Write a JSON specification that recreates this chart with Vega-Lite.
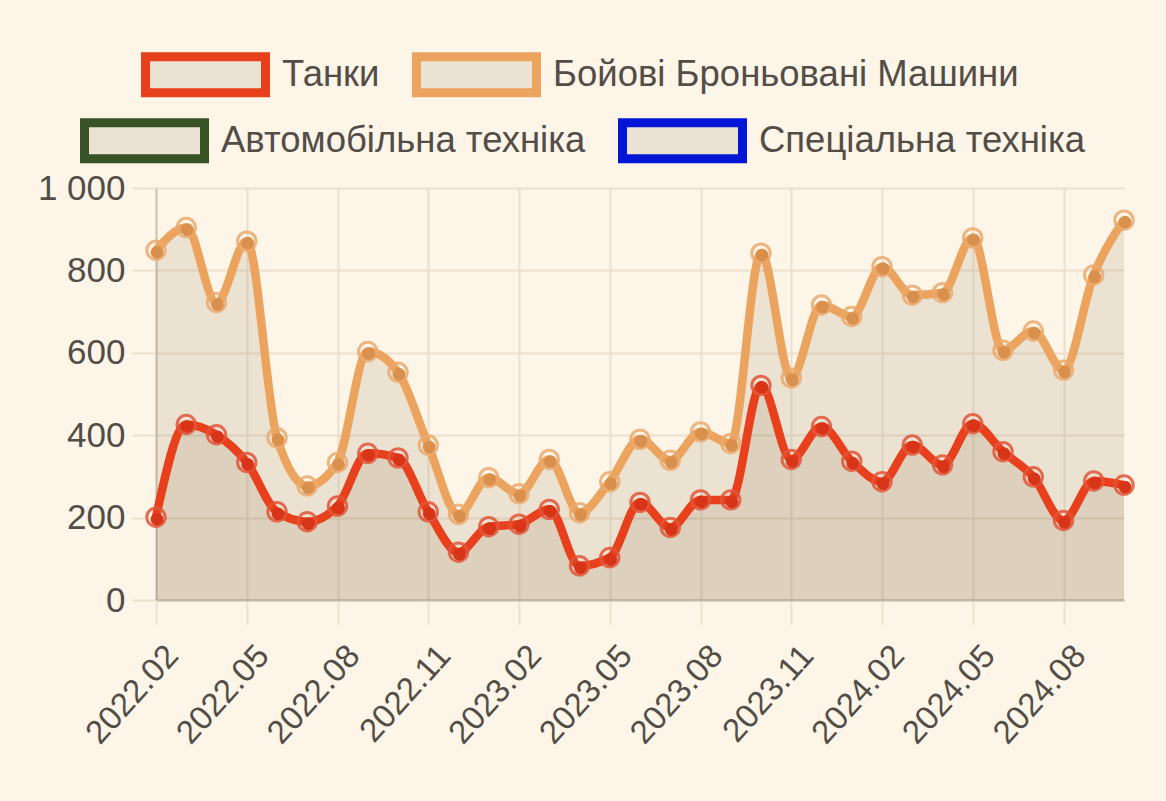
{
  "$schema": "https://vega.github.io/schema/vega-lite/v6.json",
  "width": 968,
  "height": 412,
  "autosize": {"type": "none"},
  "padding": {"left": 156, "top": 188, "right": 42, "bottom": 201},
  "background": "#fdf5e8",
  "config": {
    "view": {"stroke": null},
    "font": "Liberation Sans",
    "legend": {
      "orient": "none",
      "direction": "horizontal",
      "title": null,
      "symbolType": "M-1,-0.3H1V0.3H-1Z",
      "symbolSize": 14400,
      "symbolStrokeWidth": 9,
      "symbolFillColor": "#ece2d3",
      "symbolOpacity": 1,
      "labelFontSize": 36.5,
      "labelColor": "#534d47",
      "labelFont": "Liberation Sans",
      "labelOffset": 12,
      "columnPadding": 18,
      "labelLimit": 700
    }
  },
  "datasets": {
    "losses": [
      {"month": "2022.02", "series": "Танки", "value": 201},
      {"month": "2022.03", "series": "Танки", "value": 426},
      {"month": "2022.04", "series": "Танки", "value": 401},
      {"month": "2022.05", "series": "Танки", "value": 334},
      {"month": "2022.06", "series": "Танки", "value": 214},
      {"month": "2022.07", "series": "Танки", "value": 190},
      {"month": "2022.08", "series": "Танки", "value": 228},
      {"month": "2022.09", "series": "Танки", "value": 356},
      {"month": "2022.10", "series": "Танки", "value": 345},
      {"month": "2022.11", "series": "Танки", "value": 214},
      {"month": "2022.12", "series": "Танки", "value": 116},
      {"month": "2023.01", "series": "Танки", "value": 178},
      {"month": "2023.02", "series": "Танки", "value": 184},
      {"month": "2023.03", "series": "Танки", "value": 220},
      {"month": "2023.04", "series": "Танки", "value": 83},
      {"month": "2023.05", "series": "Танки", "value": 103},
      {"month": "2023.06", "series": "Танки", "value": 237},
      {"month": "2023.07", "series": "Танки", "value": 176},
      {"month": "2023.08", "series": "Танки", "value": 243},
      {"month": "2023.09", "series": "Танки", "value": 243},
      {"month": "2023.10", "series": "Танки", "value": 521},
      {"month": "2023.11", "series": "Танки", "value": 341},
      {"month": "2023.12", "series": "Танки", "value": 421},
      {"month": "2024.01", "series": "Танки", "value": 337},
      {"month": "2024.02", "series": "Танки", "value": 287},
      {"month": "2024.03", "series": "Танки", "value": 376},
      {"month": "2024.04", "series": "Танки", "value": 328},
      {"month": "2024.05", "series": "Танки", "value": 428},
      {"month": "2024.06", "series": "Танки", "value": 360},
      {"month": "2024.07", "series": "Танки", "value": 299},
      {"month": "2024.08", "series": "Танки", "value": 193},
      {"month": "2024.09", "series": "Танки", "value": 289},
      {"month": "2024.10", "series": "Танки", "value": 279},
      {"month": "2022.02", "series": "Бойові Броньовані Машини", "value": 849},
      {"month": "2022.03", "series": "Бойові Броньовані Машини", "value": 904},
      {"month": "2022.04", "series": "Бойові Броньовані Машини", "value": 722},
      {"month": "2022.05", "series": "Бойові Броньовані Машини", "value": 871},
      {"month": "2022.06", "series": "Бойові Броньовані Машини", "value": 394},
      {"month": "2022.07", "series": "Бойові Броньовані Машини", "value": 277},
      {"month": "2022.08", "series": "Бойові Броньовані Машини", "value": 334},
      {"month": "2022.09", "series": "Бойові Броньовані Машини", "value": 603},
      {"month": "2022.10", "series": "Бойові Броньовані Машини", "value": 553},
      {"month": "2022.11", "series": "Бойові Броньовані Машини", "value": 376},
      {"month": "2022.12", "series": "Бойові Броньовані Машини", "value": 208},
      {"month": "2023.01", "series": "Бойові Броньовані Машини", "value": 297},
      {"month": "2023.02", "series": "Бойові Броньовані Машини", "value": 258},
      {"month": "2023.03", "series": "Бойові Броньовані Машини", "value": 341},
      {"month": "2023.04", "series": "Бойові Броньовані Машини", "value": 212},
      {"month": "2023.05", "series": "Бойові Броньовані Машини", "value": 287},
      {"month": "2023.06", "series": "Бойові Броньовані Машини", "value": 390},
      {"month": "2023.07", "series": "Бойові Броньовані Машини", "value": 339},
      {"month": "2023.08", "series": "Бойові Броньовані Машини", "value": 408},
      {"month": "2023.09", "series": "Бойові Броньовані Машини", "value": 380},
      {"month": "2023.10", "series": "Бойові Броньовані Машини", "value": 842},
      {"month": "2023.11", "series": "Бойові Броньовані Машини", "value": 539},
      {"month": "2023.12", "series": "Бойові Броньовані Машини", "value": 716},
      {"month": "2024.01", "series": "Бойові Броньовані Машини", "value": 688},
      {"month": "2024.02", "series": "Бойові Броньовані Машини", "value": 809},
      {"month": "2024.03", "series": "Бойові Броньовані Машини", "value": 740},
      {"month": "2024.04", "series": "Бойові Броньовані Машини", "value": 746},
      {"month": "2024.05", "series": "Бойові Броньовані Машини", "value": 879},
      {"month": "2024.06", "series": "Бойові Броньовані Машини", "value": 606},
      {"month": "2024.07", "series": "Бойові Броньовані Машини", "value": 653},
      {"month": "2024.08", "series": "Бойові Броньовані Машини", "value": 558},
      {"month": "2024.09", "series": "Бойові Броньовані Машини", "value": 789},
      {"month": "2024.10", "series": "Бойові Броньовані Машини", "value": 922}
    ]
  },
  "data": {"name": "losses"},
  "encoding": {
    "x": {
      "field": "month",
      "type": "ordinal",
      "sort": null,
      "scale": {"type": "point", "padding": 0},
      "axis": {
        "values": ["2022.02", "2022.05", "2022.08", "2022.11", "2023.02", "2023.05", "2023.08", "2023.11", "2024.02", "2024.05", "2024.08"],
        "title": null,
        "labelAngle": -48,
        "labelAlign": "right",
        "labelBaseline": "middle",
        "labelFontSize": 33,
        "labelColor": "#534d47",
        "labelPadding": 26,
        "labelOffset": 16,
        "tickSize": 24,
        "tickColor": "#ece0cd",
        "tickWidth": 2,
        "grid": true,
        "gridColor": "#ece0cd",
        "gridWidth": 2,
        "domainColor": "#c4b9aa",
        "domainWidth": 2
      }
    },
    "y": {
      "field": "value",
      "type": "quantitative",
      "stack": null,
      "scale": {"domain": [0, 1000], "nice": false},
      "axis": {
        "values": [0, 200, 400, 600, 800, 1000],
        "title": null,
        "labelExpr": "replace(datum.label, ',', ' ')",
        "labelFontSize": 35,
        "labelColor": "#534d47",
        "labelPadding": 7,
        "tickSize": 24,
        "tickColor": "#ece0cd",
        "tickWidth": 2,
        "gridColor": "#ece0cd",
        "gridWidth": 2,
        "domainColor": "#cfc5b7",
        "domainWidth": 2
      }
    }
  },
  "layer": [
    {
      "mark": {"type": "area", "interpolate": "monotone", "color": "#5a3a14", "fillOpacity": 0.1},
      "encoding": {"detail": {"field": "series"}}
    },
    {
      "mark": {"type": "line", "interpolate": "monotone", "strokeWidth": 8.5},
      "encoding": {
        "color": {
          "field": "series",
          "type": "nominal",
          "scale": {"domain": ["Танки", "Бойові Броньовані Машини"], "range": ["#e8401c", "#eca35e"]},
          "legend": {"legendX": -15, "legendY": -178}
        },
        "order": {"field": "series", "sort": "descending"}
      }
    },
    {
      "transform": [{"filter": {"field": "series", "equal": "—"}}],
      "mark": {"type": "line", "strokeWidth": 7},
      "encoding": {
        "color": {
          "field": "series",
          "type": "nominal",
          "scale": {"domain": ["Автомобільна техніка", "Спеціальна техніка"], "range": ["#375225", "#0016d6"]},
          "legend": {"legendX": -76, "legendY": -112}
        }
      }
    },
    {
      "mark": {"type": "point", "filled": false, "size": 340, "strokeWidth": 3, "opacity": 0.85},
      "encoding": {
        "stroke": {
          "field": "series",
          "type": "nominal",
          "scale": {"domain": ["Танки", "Бойові Броньовані Машини"], "range": ["#e2563a", "#ebaa6e"]},
          "legend": null
        }
      }
    },
    {
      "mark": {"type": "point", "filled": true, "size": 160, "opacity": 1, "xOffset": 1, "yOffset": 2},
      "encoding": {
        "fill": {
          "field": "series",
          "type": "nominal",
          "scale": {"domain": ["Танки", "Бойові Броньовані Машини"], "range": ["#d83418", "#d9904d"]},
          "legend": null
        }
      }
    }
  ],
  "resolve": {"scale": {"color": "independent"}, "legend": {"color": "independent"}}
}
